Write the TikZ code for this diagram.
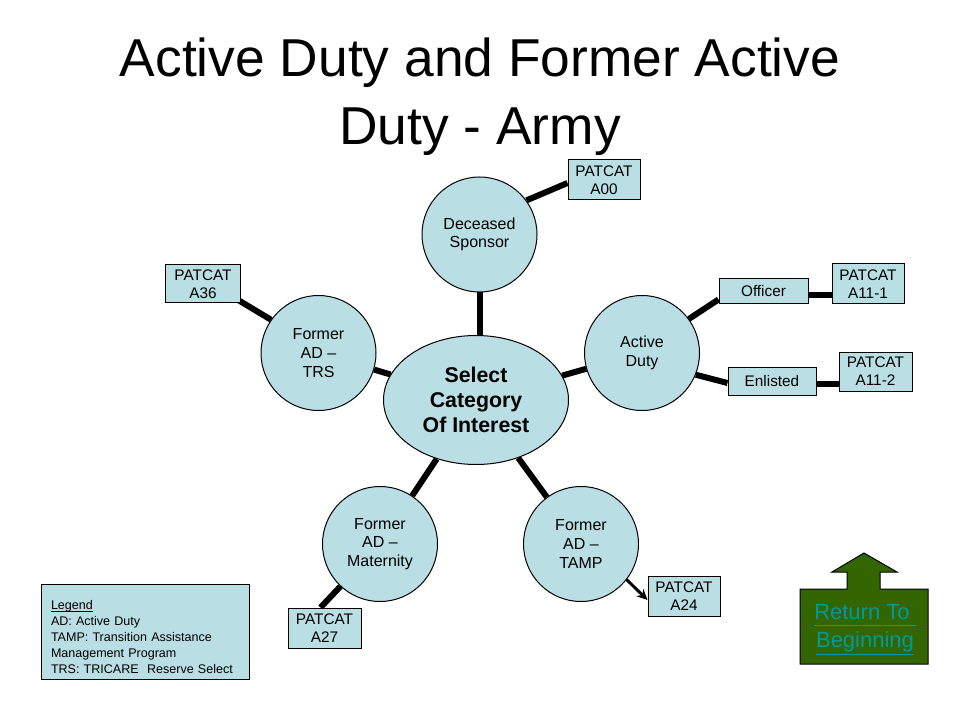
\documentclass[tikz,border=0pt]{standalone}
\usepackage{fontspec}
\setmainfont{Liberation Sans}
\usetikzlibrary{shapes.geometric,arrows.meta,calc,backgrounds}
\definecolor{lblue}{RGB}{185,222,228}
\definecolor{dgreen}{RGB}{51,102,0}
\definecolor{linkc}{RGB}{0,153,160}
\newcommand\myul[2]{\setbox0\hbox{#2}\rlap{\rule[-#1]{\wd0}{0.7pt}}\box0}
\begin{document}
\begin{tikzpicture}[x=0.75pt,y=-0.75pt,
  circ/.style={circle,draw=black,line width=0.75pt,fill=lblue,minimum size=86.25pt,inner sep=0pt,align=center,font=\fontsize{12}{14}\selectfont},
  box/.style={rectangle,draw=black,line width=0.75pt,fill=lblue,inner sep=0pt,align=center,font=\fontsize{11.5}{13.5}\selectfont},
  conn/.style={line width=4.5pt,draw=black},
  titlefont/.style={font=\fontsize{40}{51}\selectfont,anchor=base,inner sep=0pt}
]
\useasboundingbox (0,0) rectangle (960,720);

% title
\node[titlefont] (t1) at (480,77) {Active Duty and Former Active};
\node[titlefont] (t2) at (480,145) {Duty - Army};

% main nodes
\node[ellipse,draw=black,line width=0.75pt,fill=lblue,minimum width=138.75pt,minimum height=96.75pt,inner sep=0pt,align=center,font=\bfseries\fontsize{16}{18.75}\selectfont] (c) at (476,400) {Select\\Category\\Of Interest};
\node[circ] (dec) at (479.5,234.5) {Deceased\\Sponsor};
\node[circ] (trs) at (318.5,353) {Former\\AD –\\TRS};
\node[circ] (act) at (642,353) {Active\\Duty};
\node[circ] (mat) at (380,544) {Former\\AD –\\Maternity};
\node[circ] (tamp) at (581,544) {Former\\AD –\\TAMP};

% boxes
\node[box,minimum width=54pt,minimum height=30pt] (a00) at (604,180) {PATCAT\\A00};
\node[box,minimum width=56.25pt,minimum height=28.5pt] (a36) at (203,284) {PATCAT\\A36};
\node[box,minimum width=66.75pt,minimum height=18.75pt] (off) at (763.5,291.5) {Officer};
\node[box,minimum width=54pt,minimum height=30pt] (a111) at (868,284) {PATCAT\\A11-1};
\node[box,minimum width=66pt,minimum height=21pt] (enl) at (772,381) {Enlisted};
\node[box,minimum width=54.75pt,minimum height=29.25pt] (a112) at (875.5,371.5) {PATCAT\\A11-2};
\node[box,minimum width=54pt,minimum height=30pt] (a24) at (684,596) {PATCAT\\A24};
\node[box,minimum width=54.75pt,minimum height=30pt] (a27) at (324.5,628) {PATCAT\\A27};

% legend
\node[rectangle,draw=black,line width=0.75pt,fill=lblue,minimum width=156pt,minimum height=71.25pt,text width=141pt,inner sep=0pt,align=left,font=\fontsize{9.4}{12}\selectfont] (leg) at (145,631.5)
  {\rule{0pt}{15pt}\myul{1.6pt}{Legend}\\AD: Active Duty\\TAMP: Transition Assistance\\Management Program\\TRS: TRICARE\ \ Reserve Select};

% return button
\draw[fill=dgreen,draw=black,line width=0.75pt]
  (800,589) -- (847,589) -- (847,572) -- (832,572) -- (864,553) -- (897,572) -- (880,572) -- (880,589) -- (928,589) -- (928,664) -- (800,664) -- cycle;
\node[font=\fontsize{16.5}{21}\selectfont,text=linkc,align=center,inner sep=0pt] (ret) at (865,630) {\myul{4.5pt}{Return To\ }\\\myul{5.5pt}{Beginning}};

% connectors
\begin{scope}[on background layer]
\fill[white] (0,0) rectangle (960,720);
\draw[conn] (dec.south) -- (dec.south |- c.north);
\draw[conn] (c) -- (trs);
\draw[conn] (c) -- (act);
\draw[conn] (c) -- (mat);
\draw[conn] (c) -- (tamp);
\draw[conn] (dec.36) -- ($(a00.west)+(0,3)$);
\draw[conn] ($(a36.south east)+(-2,-3)$) -- (trs.145);
\draw[conn] (act.36.5) -- ($(off.south west)+(0,-5)$);
\draw[conn] ($(off.east)+(0,3.5)$) -- ($(a111.west)+(0,11)$);
\draw[conn] (act.-22.5) -- ($(enl.west)+(0,2)$);
\draw[conn] ($(enl.east)+(0,3)$) -- ($(a112.west)+(0,12.5)$);
\draw[conn] (mat.-133.5) -- ($(a27.north)+(-4,0)$);
\draw[line width=2.2pt,-{Stealth[length=8pt,width=7.5pt]}] (tamp.-38) -- ($(a24.west)+(0,4)$);
\end{scope}
\end{tikzpicture}
\end{document}
